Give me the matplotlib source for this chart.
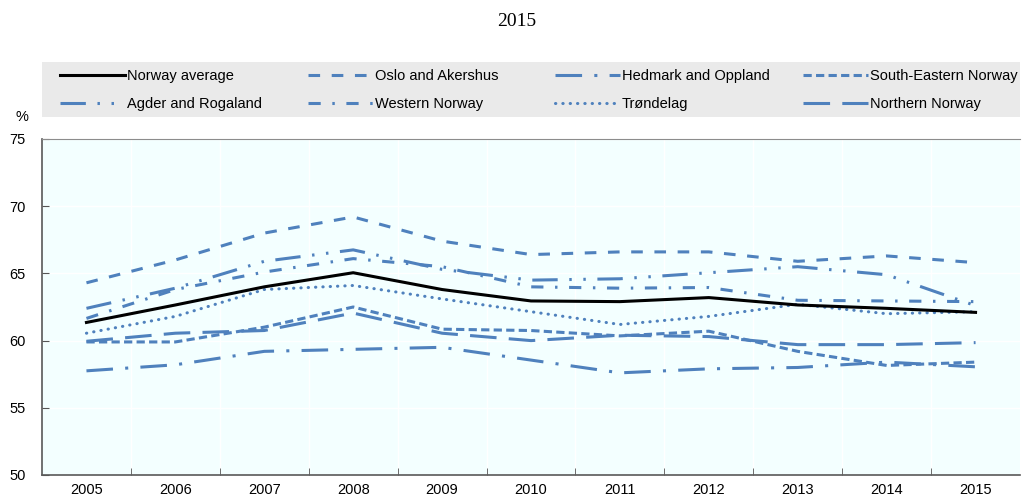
import numpy as np
import matplotlib
matplotlib.use("Agg")
import matplotlib.pyplot as plt
from matplotlib.patches import Rectangle

years = ["2005", "2006", "2007", "2008", "2009", "2010", "2011", "2012", "2013", "2014", "2015"]

norway_average = [61.35, 62.65, 64.0, 65.05, 63.8, 62.95, 62.9, 63.2, 62.65, 62.4, 62.1]
oslo_akershus = [64.3, 66.0, 68.0, 69.2, 67.4, 66.4, 66.6, 66.6, 65.9, 66.3, 65.8]
hedmark_oppland = [57.75, 58.2, 59.2, 59.35, 59.5, 58.55, 57.6, 57.9, 58.0, 58.4, 58.05]
south_eastern = [59.9, 59.9, 61.0, 62.5, 60.85, 60.75, 60.35, 60.7, 59.2, 58.15, 58.4]
agder_rogaland = [62.4, 63.9, 65.9, 66.75, 65.3, 64.5, 64.6, 65.05, 65.5, 64.9, 62.6]
western_norway = [61.65, 63.8, 65.1, 66.1, 65.5, 64.0, 63.9, 63.95, 63.0, 62.95, 62.9]
trondelag = [60.55, 61.8, 63.8, 64.1, 63.1, 62.15, 61.2, 61.8, 62.7, 62.0, 62.15]
northern_norway = [59.95, 60.55, 60.75, 62.05, 60.55, 60.0, 60.4, 60.3, 59.7, 59.7, 59.85]

series_names = ["Norway average", "Oslo and Akershus", "Hedmark and Oppland", "South-Eastern Norway",
                "Agder and Rogaland", "Western Norway", "Trøndelag", "Northern Norway"]

plt.rcParams['font.family'] = ['Liberation Sans', 'DejaVu Sans']

blue = "#4F81BD"
styles = [
    dict(color="black", linestyle="-"),
    dict(color=blue, linestyle=(0, (3.8, 3.8))),
    dict(color=blue, linestyle=(0, (8.7, 4.0, 1.0, 4.0))),
    dict(color=blue, linestyle=(0, (2.7, 1.4))),
    dict(color=blue, linestyle=(0, (8.3, 3.8, 0.8, 3.8, 0.8, 3.8))),
    dict(color=blue, linestyle=(0, (4.0, 3.8, 0.8, 3.8))),
    dict(color=blue, linestyle=(0, (0.1, 2.3)), dash_capstyle="round"),
    dict(color=blue, linestyle=(0, (8.7, 4.0))),
]
data = [norway_average, oslo_akershus, hedmark_oppland, south_eastern,
        agder_rogaland, western_norway, trondelag, northern_norway]

fig = plt.figure(figsize=(10.24, 4.97), dpi=100)
ax = fig.add_axes([42/1024, 1-475/497, (1020-42)/1024, 336/497])
ax.set_facecolor("#F3FFFF")

x = np.arange(len(years))
lines = {}
for i in [1, 2, 3, 4, 5, 6, 7, 0]:
    ln, = ax.plot(x, data[i], lw=2.2, label=series_names[i], **styles[i])
    lines[i] = ln

ax.set_xlim(-0.5, len(years) - 0.5)
ax.set_ylim(50, 75)
ax.set_yticks([50, 55, 60, 65, 70, 75])
ax.set_xticks(x)
ax.set_xticklabels(years)
ax.set_xticks(np.arange(0.5, len(years) - 1, 1), minor=True)
ax.tick_params(axis="x", which="major", length=0, labelsize=10.5, pad=6)
ax.tick_params(axis="x", which="minor", direction="in", length=5, color="#555555")
ax.tick_params(axis="y", direction="in", length=5, color="#555555", labelsize=10.5, pad=12)
ax.grid(True, axis="y", color="white", lw=1)
ax.grid(True, axis="x", which="minor", color="white", lw=1)
ax.set_axisbelow(True)
for s in ["left", "bottom"]:
    ax.spines[s].set_color("#595959")
    ax.spines[s].set_linewidth(1.2)
ax.spines["top"].set_color("#8c8c8c")
ax.spines["top"].set_linewidth(0.8)
ax.spines["right"].set_visible(False)

# legend background
fig.patches.append(Rectangle((42/1024, 1-117/497), (1020-42)/1024, 55/497,
                             transform=fig.transFigure, facecolor="#EAEAEA",
                             edgecolor="none", zorder=0))
col_x = [60, 308, 555, 803]
for c in range(4):
    idx = [c, c + 4]
    fig.legend([lines[i] for i in idx], [series_names[i] for i in idx],
               loc="upper left", bbox_to_anchor=(col_x[c]/1024, 1-69/497),
               bbox_transform=fig.transFigure, frameon=False, borderpad=0,
               borderaxespad=0, fontsize=10.5, handlelength=4.45, handletextpad=0.15,
               labelspacing=0.95)

fig.text(22/1024, 1-117/497, "%", fontsize=10.5, ha="center", va="center")
fig.text(517/1024, 1-22/497, "2015", fontsize=14, ha="center", va="center",
         family=["Liberation Serif", "DejaVu Serif"])

fig.savefig("out.png", dpi=100)
